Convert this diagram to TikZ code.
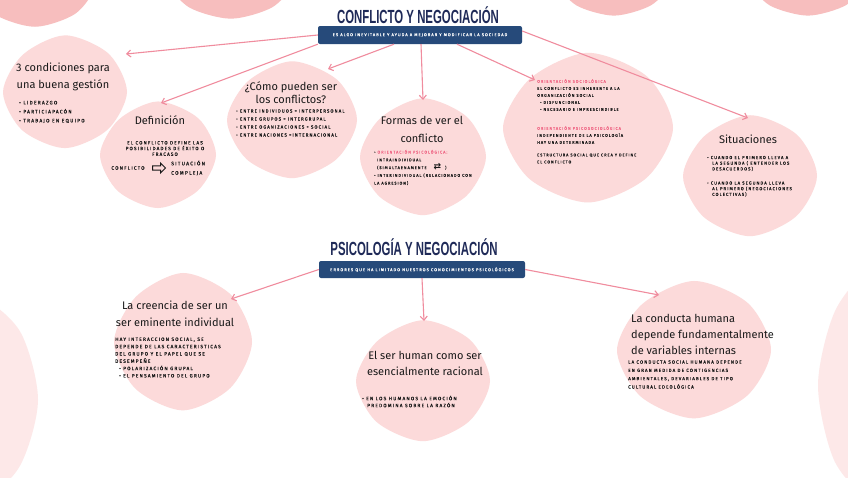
\documentclass[tikz,border=0pt]{standalone}
\usepackage{fontspec}
\usepackage{graphicx}
\setmainfont{Fira Sans}
\newfontfamily\titlefont{Liberation Sans}
\newfontfamily\symfont{DejaVu Sans}
\newfontfamily\tinyfont[LetterSpace=23,FakeBold=0.25]{Fira Sans}
\usetikzlibrary{arrows.meta,shapes.arrows}
\definecolor{navy}{RGB}{31,42,88}
\definecolor{boxblue}{RGB}{38,74,122}
\definecolor{linkpink}{RGB}{240,140,158}
\definecolor{blobpink}{RGB}{252,218,218}
\definecolor{decopink}{RGB}{247,190,190}
\definecolor{sidepink}{RGB}{253,232,232}
\definecolor{accent}{RGB}{240,105,135}
\definecolor{ink}{RGB}{25,25,25}
\newcommand\pinkblob[5]{%
  \fill[#1] plot[smooth cycle] coordinates {
    ({#2+#4*1.00*cos(0)},{#3+#5*1.00*sin(0)})
    ({#2+#4*0.97*cos(45)},{#3+#5*0.97*sin(45)})
    ({#2+#4*1.02*cos(90)},{#3+#5*1.02*sin(90)})
    ({#2+#4*0.98*cos(135)},{#3+#5*0.98*sin(135)})
    ({#2+#4*1.00*cos(180)},{#3+#5*1.00*sin(180)})
    ({#2+#4*0.96*cos(225)},{#3+#5*0.96*sin(225)})
    ({#2+#4*1.03*cos(270)},{#3+#5*1.03*sin(270)})
    ({#2+#4*0.99*cos(315)},{#3+#5*0.99*sin(315)})
  };}
\tikzset{
  bigtitle/.style={text=navy, font=\titlefont\bfseries\fontsize{19}{19}\selectfont, inner sep=0pt},
  subbox/.style={fill=boxblue, rounded corners=2pt, text=white, font=\tinyfont\fontsize{4.2}{5}\selectfont, minimum height=18pt, inner sep=0pt},
  head/.style={font=\fontsize{11}{17}\selectfont, align=center, inner sep=0pt, text=ink},
  body/.style={font=\tinyfont\fontsize{4}{7}\selectfont, align=left, inner sep=0pt, text=ink},
  link/.style={draw=linkpink, line width=1.1pt, -{Straight Barb[length=4pt,width=7pt]}},
}
\begin{document}
\begin{tikzpicture}[x=1pt,y=-1pt]
\useasboundingbox (0,0) rectangle (848,477);
\fill[white] (0,0) rectangle (848,477);
\begin{scope}
\clip (0,0) rectangle (848,477);
\pinkblob{decopink}{35}{-12}{58}{38}
\pinkblob{decopink}{231}{-16}{60}{34}
\pinkblob{decopink}{614}{-16}{54}{31}
\pinkblob{decopink}{808}{-16}{55}{31}
\pinkblob{sidepink}{-22}{400}{60}{98}
\pinkblob{sidepink}{872}{385}{54}{110}
\end{scope}
% content blobs
\pinkblob{blobpink}{65}{92}{62}{55}
\pinkblob{blobpink}{158}{155}{58}{52}
\pinkblob{blobpink}{292}{120}{65}{57}
\pinkblob{blobpink}{423}{157}{63}{57}
\pinkblob{blobpink}{588}{128}{85}{73}
\pinkblob{blobpink}{750}{176}{67}{59}
\pinkblob{blobpink}{183}{342}{69}{67}
\pinkblob{blobpink}{423}{381}{67}{59}
\pinkblob{blobpink}{694}{350}{77}{67}

% section 1
\node[bigtitle] (title1) at (418,15) {\scalebox{0.6}[1]{CONFLICTO Y NEGOCIACIÓN}};
\node[subbox, minimum width=204pt] (box1) at (420,35) {ES ALGO INEVITABLE Y AYUDA A MEJORAR Y MODIFICAR LA SOCIEDAD};

\node[head] (condhead) at (63,77) {3 condiciones para\\una buena gestión};
\node[body, font=\tinyfont\fontsize{5}{9}\selectfont, anchor=west] (condlist) at (19,112) {• LIDERAZGO\\• PARTICIAPACÓN\\• TRABAJO EN EQUIPO};

\node[head] (defhead) at (160,120) {Definición};
\node[body, align=center, font=\tinyfont\fontsize{4.75}{5.7}\selectfont] (defbody) at (165,148.5) {EL CONFLICTO DEFINE LAS\\POSIBILIDADES DE ÉXITO O\\FRACASO};
\node[body, font=\tinyfont\fontsize{4.9}{5.7}\selectfont] (defleft) at (128,168) {CONFLICTO};
\node[single arrow, draw=ink, line width=0.9pt, minimum height=13pt, minimum width=10pt, single arrow head extend=2pt, inner sep=1pt] (defarrow) at (158,168) {};
\node[body, anchor=west, font=\tinyfont\fontsize{5.1}{9.4}\selectfont] (defright) at (171,168) {SITUACIÓN\\COMPLEJA};

\node[head, font=\fontsize{11}{13}\selectfont] (comohead) at (291,93) {¿Cómo pueden ser\\los conflictos?};
\node[body, anchor=west, font=\tinyfont\fontsize{4.5}{8}\selectfont] (comobody) at (236,123) {• ENTRE INDIVIDUOS = INTERPERSONAL\\• ENTRE GRUPOS = INTERGRUPAL\\• ENTRE OGANIZACIONES = SOCIAL\\• ENTRE NACIONES =INTERNACIONAL};

\node[head, font=\fontsize{11}{18}\selectfont] (formhead) at (422,129) {Formas de ver el\\conflicto};
\node[body, anchor=west, font=\tinyfont\fontsize{4}{7.75}\selectfont] (formbody) at (374,167.5) {• \textcolor{accent}{ORIENTACIÓN PSICOLÓGICA:}\\\hspace*{3pt}INTRAINDIVIDUAL\\\hspace*{3pt}(SIMULTAENAMENTE \hspace{5pt}{\symfont\bfseries\fontsize{9}{7.75}\selectfont ⇄}\hspace{4pt})\\• INTERINDIVIDUAL (RELACIONADO CON\\LA AGRESION)};

\node[body, anchor=west] (orient1) at (537,95) {\textcolor{accent}{ORIENTACIÓN SOCIOLÓGICA}\\EL CONFLICTO ES INHERENTE A LA\\ORGANIZACIÓN SOCIAL\\\hspace*{3pt}• DISFUNCIONAL\\\hspace*{3pt}• NECESARIO E IMPRESCINDIBLE};
\node[body, anchor=west] (orient2) at (537,135) {\textcolor{accent}{ORIENTACIÓN PSICOSOCIOLÓGICA}\\INDEPENDIENTE DE LA PSICOLOGÍA\\HAY UNA DETERMINADA};
\node[body, anchor=west] (orient3) at (537,158.5) {ESTRUCTURA SOCIAL QUE CREA Y DEFINE\\EL CONFLICTO};

\node[head] (sithead) at (748,139) {Situaciones};
\node[body, anchor=west, font=\tinyfont\fontsize{4.35}{5.7}\selectfont] (sit1) at (707,163.5) {• CUANDO EL PRIMERO LLEVA A\\\hspace*{5pt}LA SEGUNDA ( ENTENDER LOS\\\hspace*{5pt}DESACUERDOS)};
\node[body, anchor=west, font=\tinyfont\fontsize{4.35}{5.7}\selectfont] (sit2) at (707,189) {• CUANDO LA SEGUNDA LLEVA\\\hspace*{5pt}AL PRIMERO (NEGOCIACIONES\\\hspace*{5pt}COLECTIVAS)};

% section 2
\node[bigtitle] (title2) at (414,247) {\scalebox{0.6}[1]{PSICOLOGÍA Y NEGOCIACIÓN}};
\node[subbox, minimum width=206pt, minimum height=17pt] (box2) at (422,269.5) {ERRORES QUE HA LIMITADO NUESTROS CONOCIMIENTOS PSICOLÓGICOS};

\node[head] (creehead) at (175,313.5) {La creencia de ser un\\ser eminente individual};
\node[body, anchor=west, font=\tinyfont\fontsize{4.9}{7.3}\selectfont] (creebody) at (115,357.5) {HAY INTERACCION SOCIAL, SE\\DEPENDE DE LAS CARACTERISTICAS\\DEL GRUPO Y EL PAPEL QUE SE\\DESEMPEÑE\\\hspace*{4pt}• POLARIZACIÓN GRUPAL\\\hspace*{4pt}• EL PENSAMIENTO DEL GRUPO};

\node[head, font=\fontsize{11}{16}\selectfont] (serhead) at (425,363) {El ser human como ser\\esencialmente racional};
\node[body, anchor=west, font=\tinyfont\fontsize{4.9}{7}\selectfont] (serbody) at (362,401.5) {• EN LOS HUMANOS LA EMOCIÓN\\\hspace*{5pt}PREDOMINA SOBRE LA RAZÓN};

\node[head, align=left, anchor=west, font=\fontsize{11}{16}\selectfont] (condhead2) at (631,334) {La conducta humana\\depende fundamentalmente\\de variables internas};
\node[body, anchor=west, font=\tinyfont\fontsize{4.6}{8.3}\selectfont] (condbody2) at (628,374.5) {LA CONDUCTA SOCIAL HUMANA DEPENDE\\EN GRAN MEDIDA DE CONTIGENCIAS\\AMBIENTALES, DEVARIABLES DE TIPO\\CULTURAL EDEOLÓGICA};

% arrow ends
\coordinate (c11) at (126,54);
\coordinate (c12) at (161,103);
\coordinate (c13) at (328,69);
\coordinate (c14) at (423,100);
\coordinate (c15) at (535,80);
\coordinate (c16) at (748,118);
\coordinate (c21) at (231,299);
\coordinate (c22) at (424,321);
\coordinate (c23) at (659,295);

\draw[link] (box1.west) -- (c11);
\draw[link] (box1.south west) -- (c12);
\draw[link] ([xshift=-26pt]box1.south) -- (c13);
\draw[link] ([xshift=1pt]box1.south) -- (c14);
\draw[link] ([xshift=37pt]box1.south) -- (c15);
\draw[link] ([yshift=4pt]box1.east) -- (c16);
\draw[link] (box2.west) -- (c21);
\draw[link] (box2.south) -- (c22);
\draw[link] (box2.east) -- (c23);
\end{tikzpicture}
\end{document}
